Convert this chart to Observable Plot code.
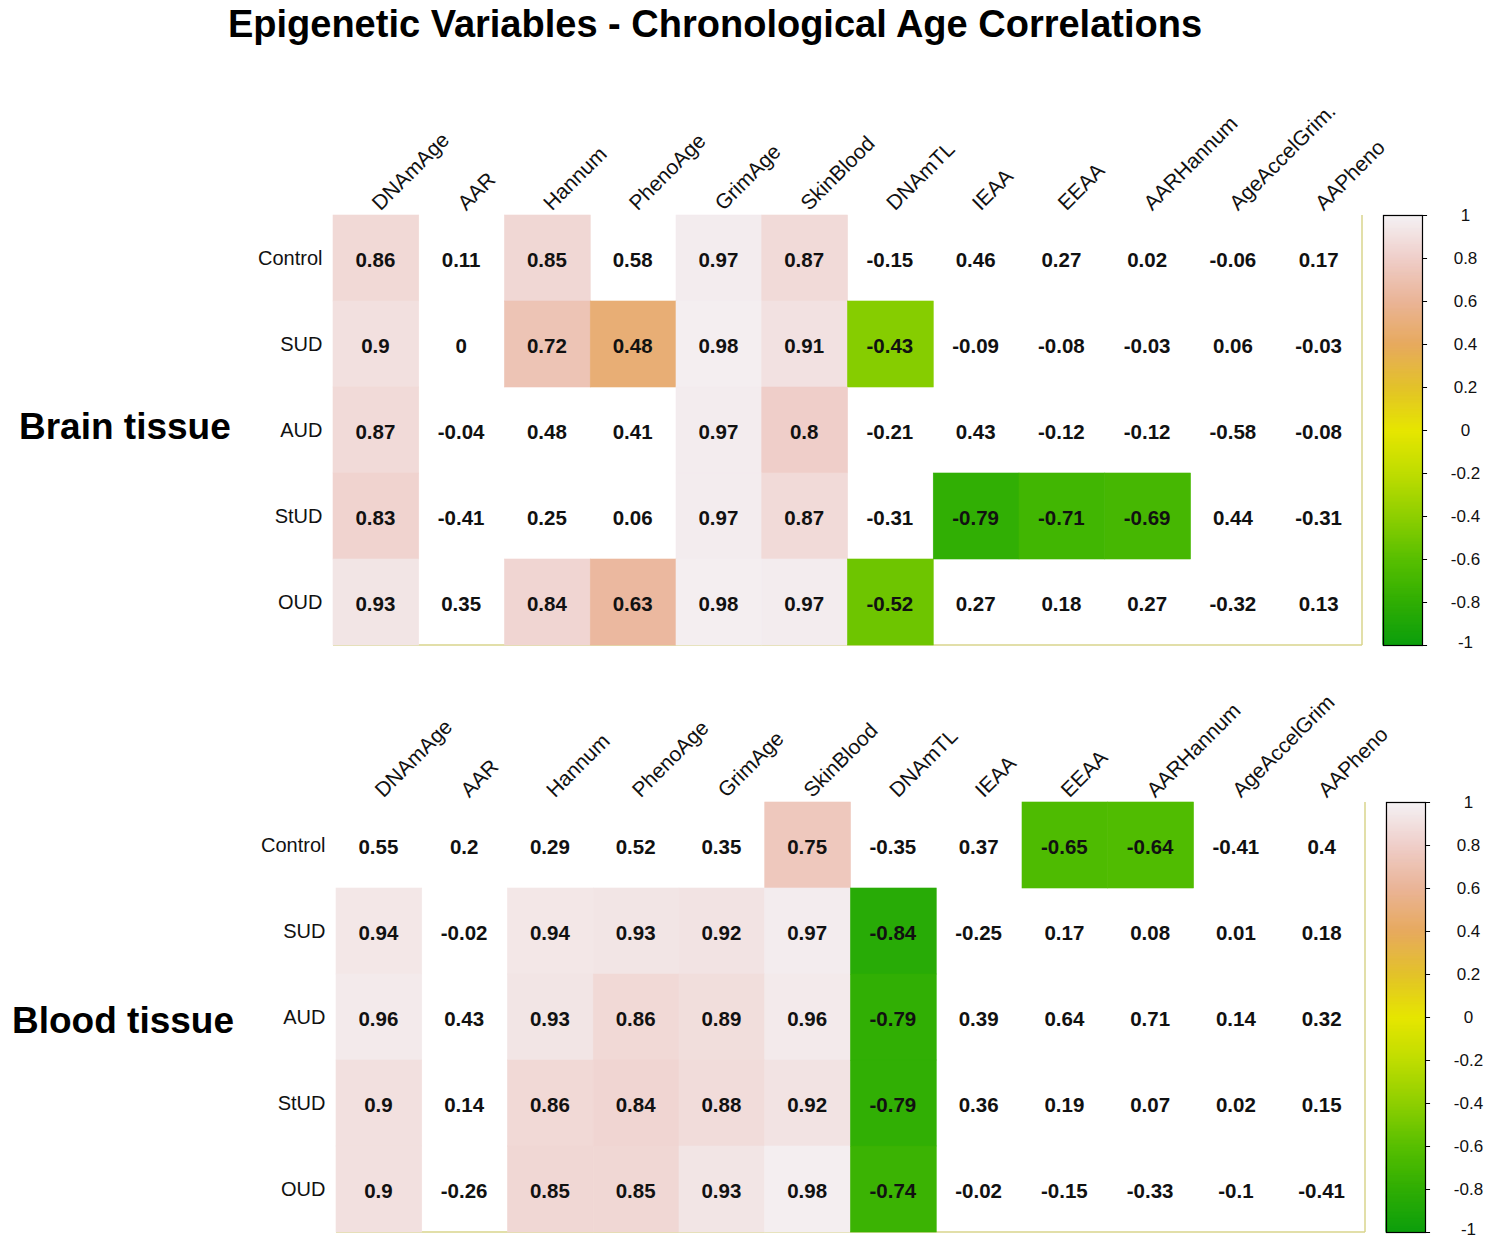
<!DOCTYPE html>
<html>
<head>
<meta charset="utf-8">
<script src="https://cdn.jsdelivr.net/npm/d3@7"></script>
<script src="https://cdn.jsdelivr.net/npm/@observablehq/plot@0.6"></script>
<style>
  html, body { margin: 0; padding: 0; background: #fff; }
  #root { position: relative; width: 1500px; height: 1239px; overflow: hidden; font-family: "Liberation Sans", Arial, sans-serif; color: #000; }
  .abs { position: absolute; }
  .title { left: 0; width: 1430px; top: 2px; text-align: center; font-weight: bold; font-size: 38px; line-height: 44px; }
  .panel-label { font-weight: bold; font-size: 37px; line-height: 44px; white-space: nowrap; }
</style>
</head>
<body>
<div id="root">
  <div class="abs title">Epigenetic Variables - Chronological Age Correlations</div>
  <div class="abs panel-label" style="left:19px; top:405px;">Brain tissue</div>
  <div class="abs panel-label" style="left:12px; top:999px;">Blood tissue</div>
</div>
<script>
// ---------------- DATA ----------------
const rowNames = ["Control", "SUD", "AUD", "StUD", "OUD"];
const brainColumns = ["DNAmAge", "AAR", "Hannum", "PhenoAge", "GrimAge", "SkinBlood", "DNAmTL", "IEAA", "EEAA", "AARHannum", "AgeAccelGrim.", "AAPheno"];
const bloodColumns = ["DNAmAge", "AAR", "Hannum", "PhenoAge", "GrimAge", "SkinBlood", "DNAmTL", "IEAA", "EEAA", "AARHannum", "AgeAccelGrim", "AAPheno"];

const brainValues = [
  [0.86, 0.11, 0.85, 0.58, 0.97, 0.87, -0.15, 0.46, 0.27, 0.02, -0.06, 0.17],
  [0.9, 0, 0.72, 0.48, 0.98, 0.91, -0.43, -0.09, -0.08, -0.03, 0.06, -0.03],
  [0.87, -0.04, 0.48, 0.41, 0.97, 0.8, -0.21, 0.43, -0.12, -0.12, -0.58, -0.08],
  [0.83, -0.41, 0.25, 0.06, 0.97, 0.87, -0.31, -0.79, -0.71, -0.69, 0.44, -0.31],
  [0.93, 0.35, 0.84, 0.63, 0.98, 0.97, -0.52, 0.27, 0.18, 0.27, -0.32, 0.13]
];
// 1 = coloured (significant) cell, 0 = blank cell
const brainSignificant = [
  [1, 0, 1, 0, 1, 1, 0, 0, 0, 0, 0, 0],
  [1, 0, 1, 1, 1, 1, 1, 0, 0, 0, 0, 0],
  [1, 0, 0, 0, 1, 1, 0, 0, 0, 0, 0, 0],
  [1, 0, 0, 0, 1, 1, 0, 1, 1, 1, 0, 0],
  [1, 0, 1, 1, 1, 1, 1, 0, 0, 0, 0, 0]
];

const bloodValues = [
  [0.55, 0.2, 0.29, 0.52, 0.35, 0.75, -0.35, 0.37, -0.65, -0.64, -0.41, 0.4],
  [0.94, -0.02, 0.94, 0.93, 0.92, 0.97, -0.84, -0.25, 0.17, 0.08, 0.01, 0.18],
  [0.96, 0.43, 0.93, 0.86, 0.89, 0.96, -0.79, 0.39, 0.64, 0.71, 0.14, 0.32],
  [0.9, 0.14, 0.86, 0.84, 0.88, 0.92, -0.79, 0.36, 0.19, 0.07, 0.02, 0.15],
  [0.9, -0.26, 0.85, 0.85, 0.93, 0.98, -0.74, -0.02, -0.15, -0.33, -0.1, -0.41]
];
const bloodSignificant = [
  [0, 0, 0, 0, 0, 1, 0, 0, 1, 1, 0, 0],
  [1, 0, 1, 1, 1, 1, 1, 0, 0, 0, 0, 0],
  [1, 0, 1, 1, 1, 1, 1, 0, 0, 0, 0, 0],
  [1, 0, 1, 1, 1, 1, 1, 0, 0, 0, 0, 0],
  [1, 0, 1, 1, 1, 1, 1, 0, 0, 0, 0, 0]
];

const colorStops = [-1, -0.8, -0.6, -0.4, -0.2, 0, 0.2, 0.4, 0.6, 0.8, 1];
const colorRange = ["#0c9e0c", "#2fae04", "#58bf00", "#8ecf00", "#bfdd00", "#e6e600", "#e3c22a", "#e7aa5e", "#eab497", "#efcec9", "#f4f1f4"];
const colorbarTicks = [1, 0.8, 0.6, 0.4, 0.2, 0, -0.2, -0.4, -0.6, -0.8, -1];

// ---------------- DRAW ----------------
const FONT = '"Liberation Sans", Arial, sans-serif';
const root = document.getElementById("root");
const colorScale = {type: "linear", domain: colorStops, range: colorRange, interpolate: "rgb"};
const fmt = v => String(v);
const CELL_W = 1029 / 12, CELL_H = 86;

function drawPanel(columns, values, significant, left, top) {
  const data = [];
  rowNames.forEach((r, i) => columns.forEach((c, j) => data.push({row: r, col: c, value: values[i][j], sig: significant[i][j] === 1})));
  const chart = Plot.plot({
    width: 1370, height: 555,
    marginLeft: 333, marginRight: 8, marginTop: 115, marginBottom: 10,
    x: {type: "band", domain: columns, padding: 0, round: false, axis: null},
    y: {type: "band", domain: rowNames, padding: 0, round: false, axis: null},
    color: colorScale,
    style: {fontFamily: FONT, background: "transparent", overflow: "visible"},
    marks: [
      Plot.ruleX([columns[columns.length - 1]], {x: d => d, dx: CELL_W / 2 - 0.5, stroke: "#d9d48c", strokeWidth: 1.5}),
      Plot.ruleY([rowNames[rowNames.length - 1]], {y: d => d, dy: CELL_H / 2 - 0.5, stroke: "#d9d48c", strokeWidth: 1.5}),
      Plot.cell(data.filter(d => d.sig), {x: "col", y: "row", fill: "value", stroke: "value", strokeWidth: 0.6, inset: 0}),
      Plot.text(data, {x: "col", y: "row", text: d => fmt(d.value), fontSize: 20.5, fontWeight: "bold", fill: "#111", dx: -1, dy: 2}),
      Plot.text(rowNames, {y: d => d, frameAnchor: "left", textAnchor: "end", dx: -11, fontSize: 20, fill: "#111"}),
      Plot.text(columns, {x: d => d, frameAnchor: "top", textAnchor: "start", lineAnchor: "bottom", rotate: -45, dx: 4, dy: -4, fontSize: 21, fill: "#111"})
    ]
  });
  chart.classList.add("abs");
  chart.style.left = left + "px";
  chart.style.top = top + "px";
  root.appendChild(chart);
}

function drawColorbar(left, top) {
  const steps = d3.range(-1, 1, 0.005).map(v => ({y1: v, y2: v + 0.005, v: v + 0.0025}));
  const bar = Plot.plot({
    width: 160, height: 465,
    marginLeft: 43, marginRight: 78, marginTop: 15, marginBottom: 20,
    x: {domain: [0, 1], axis: null},
    y: {domain: [-1, 1], axis: null},
    color: colorScale,
    style: {fontFamily: FONT, background: "transparent", overflow: "visible"},
    marks: [
      Plot.rect(steps, {x1: 0, x2: 1, y1: "y1", y2: "y2", fill: "v", stroke: "v", strokeWidth: 1}),
      Plot.frame({stroke: "#000", strokeWidth: 1.2}),
      Plot.ruleY(colorbarTicks, {y: d => d, x1: 1, x2: 1.13, stroke: "#000", strokeWidth: 1}),
      Plot.text(colorbarTicks.filter(d => d !== -1), {y: d => d, frameAnchor: "right", textAnchor: "middle", dx: 43, text: d => fmt(d), fontSize: 17, fill: "#111"}),
      Plot.text(colorbarTicks.filter(d => d === -1), {y: d => d, frameAnchor: "right", textAnchor: "middle", dx: 43, dy: -3, text: d => fmt(d), fontSize: 17, fill: "#111"})
    ]
  });
  bar.classList.add("abs");
  bar.style.left = left + "px";
  bar.style.top = top + "px";
  root.appendChild(bar);
}

drawPanel(brainColumns, brainValues, brainSignificant, 0, 100);
drawColorbar(1340, 200);
drawPanel(bloodColumns, bloodValues, bloodSignificant, 3, 687);
drawColorbar(1343, 787);
</script>
</body>
</html>
